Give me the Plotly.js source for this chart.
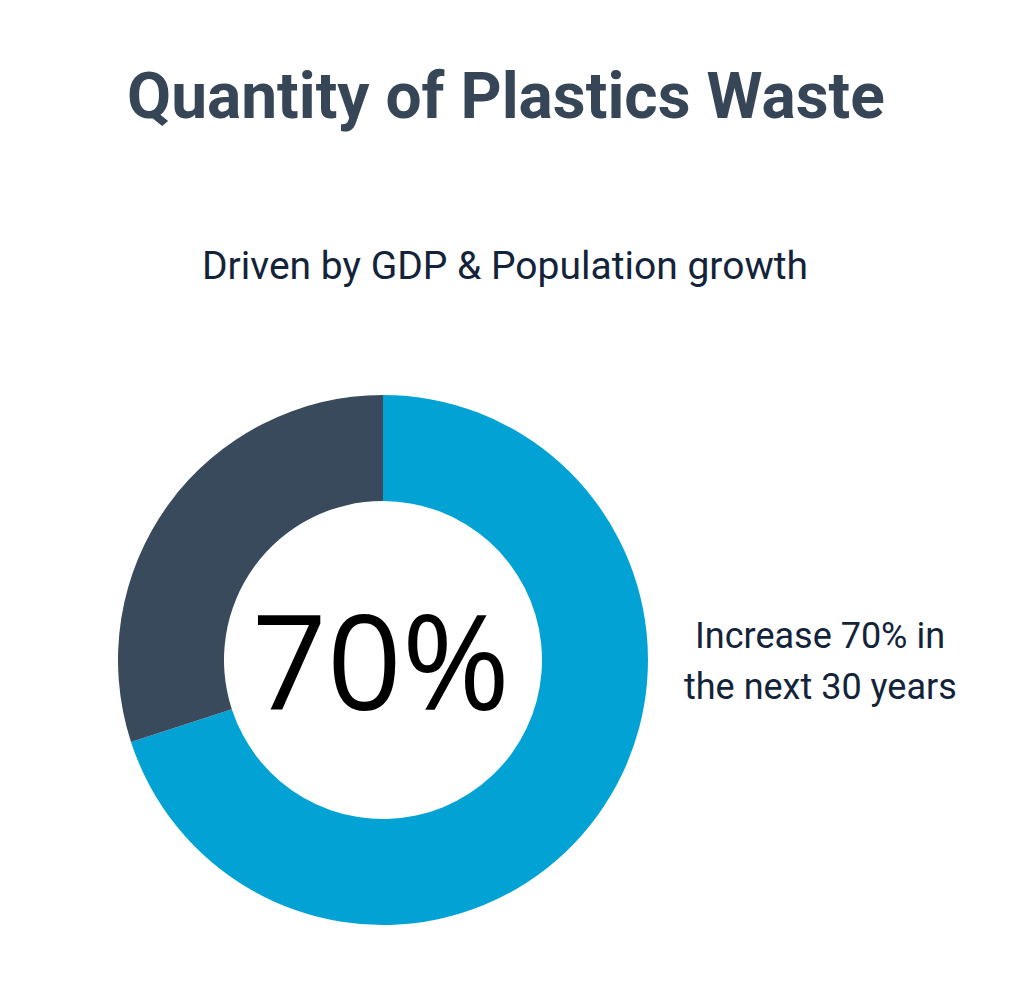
<!DOCTYPE html>
<html>
<head>
<meta charset="utf-8">
<script src="https://cdn.plot.ly/plotly-3.0.1.min.js"></script>
<style>html,body{margin:0;padding:0;background:#fff;}#chart{width:1024px;height:997px;}</style>
</head>
<body>
<div id="chart"></div>
<script>
const labels = ["Increase", "Current"];
const values = [70, 30];
const colors = ["#02a3d4", "#394a5c"];
const titleText = "Quantity of Plastics Waste";
const subtitleText = "Driven by GDP & Population growth";
const centerText = "70%";
const noteLines = ["Increase 70% in", "the next 30 years"];

const trace = {
  type: "pie",
  labels: labels,
  values: values,
  hole: 0.6,
  sort: false,
  direction: "clockwise",
  rotation: 0,
  marker: {colors: colors, line: {width: 0}},
  textinfo: "none",
  hoverinfo: "label+percent",
  domain: {x: [118/1024, 648/1024], y: [72/997, 602/997]},
  showlegend: false
};

const noteY = [636, 687];
const annotations = [
  {text: "<b>" + titleText + "</b>", xref: "paper", yref: "paper", x: 506/1024, y: (997-96)/997,
   xanchor: "center", yanchor: "middle", showarrow: false,
   font: {family: "Roboto", size: 64, color: "#374656"}},
  {text: subtitleText, xref: "paper", yref: "paper", x: 505/1024, y: (997-266)/997,
   xanchor: "center", yanchor: "middle", showarrow: false,
   font: {family: "Roboto", size: 39, color: "#13243a"}},
  {text: centerText, xref: "paper", yref: "paper", x: 381/1024, y: (997-659)/997,
   xanchor: "center", yanchor: "middle", showarrow: false,
   font: {family: "Open Sans", size: 131, color: "#000000"}}
];
noteLines.forEach((t, i) => annotations.push({
  text: t, xref: "paper", yref: "paper", x: 820/1024, y: (997-noteY[i])/997,
  xanchor: "center", yanchor: "middle", showarrow: false,
  font: {family: "Roboto", size: 36, color: "#13243a"}
}));

const layout = {
  width: 1024, height: 997,
  margin: {l: 0, r: 0, t: 0, b: 0},
  paper_bgcolor: "#ffffff",
  plot_bgcolor: "#ffffff",
  showlegend: false,
  annotations: annotations
};

Plotly.newPlot("chart", [trace], layout, {displayModeBar: false, staticPlot: true});
</script>
</body>
</html>
